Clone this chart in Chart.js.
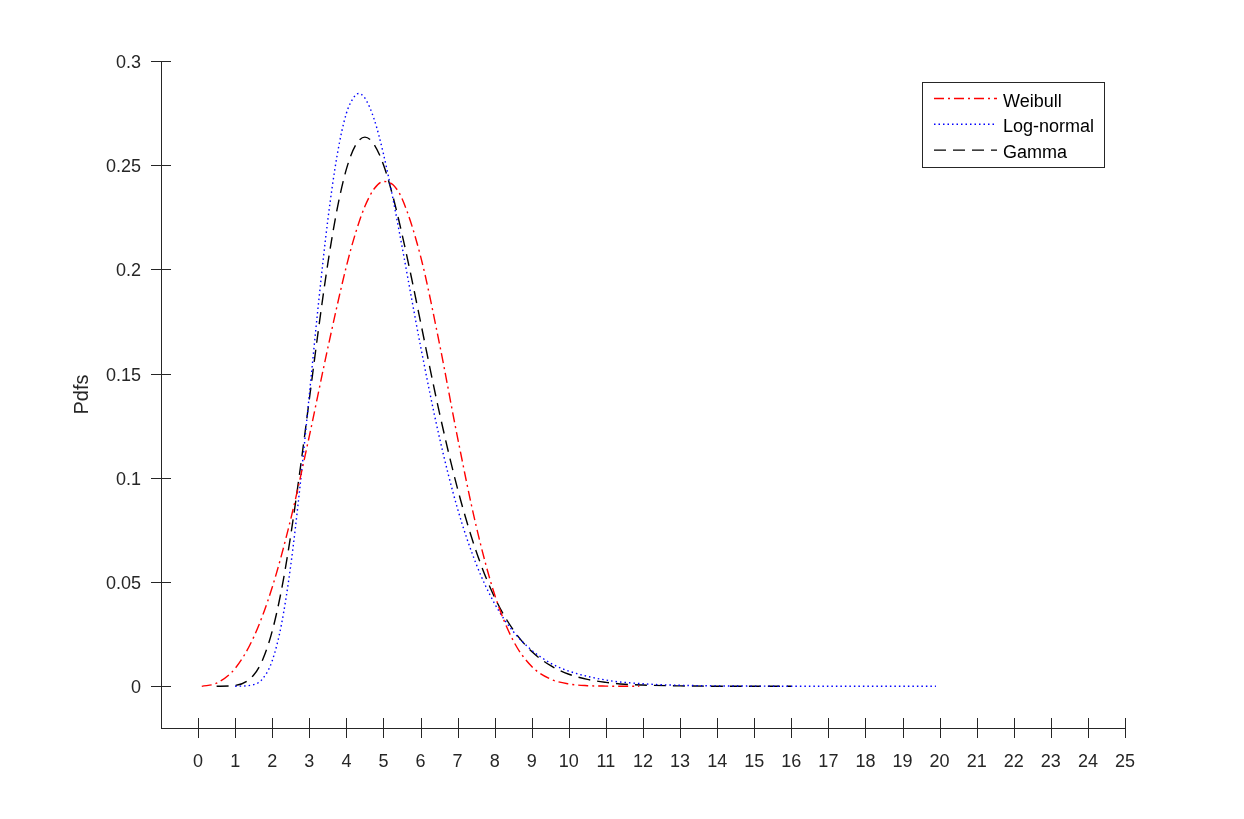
<!DOCTYPE html>
<html lang="en">
<head>
<meta charset="UTF-8">
<title>Pdfs</title>
<script src="https://cdn.jsdelivr.net/npm/chart.js@4.4.8/dist/chart.umd.min.js"></script>
<style>
  body { margin: 0; background: #fff; }
</style>
</head>
<body>
<canvas id="pdfChart" width="1244" height="819"></canvas>

<script>
    // values
    const weibullX = [0.1, 0.5, 1, 1.5, 2, 2.5, 3, 3.5, 4, 4.25, 4.5, 4.75, 5, 5.25, 5.5, 6, 6.5, 7, 7.5, 8, 8.5, 9, 9.5, 10, 10.5, 11, 11.9];
    const weibullY = [0, 0.0015, 0.0086, 0.0236, 0.0475, 0.0803, 0.1200, 0.1624, 0.2015, 0.2176, 0.2303, 0.2387, 0.2422, 0.2407, 0.2340, 0.2064, 0.1653, 0.1192, 0.0769, 0.0439, 0.0219, 0.0095, 0.0035, 0.0011, 0.0003, 0.0001, 0];

    const lognormX = [1, 1.5, 1.75, 2, 2.25, 2.5, 2.75, 3, 3.25, 3.5, 3.75, 4, 4.25, 4.33, 4.5, 4.75, 5, 5.25, 5.5, 5.75, 6, 6.5, 7, 7.5, 8, 8.5, 9, 9.5, 10, 11, 12, 13, 14, 15, 16, 17, 18, 19.9];
    const lognormY = [0, 0.0008, 0.0038, 0.0123, 0.0298, 0.0581, 0.0960, 0.1397, 0.1841, 0.2238, 0.2547, 0.2749, 0.2837, 0.2844, 0.2822, 0.2720, 0.2554, 0.2344, 0.2111, 0.1869, 0.1632, 0.1201, 0.0851, 0.0587, 0.0396, 0.0263, 0.0173, 0.0112, 0.0073, 0.0030, 0.0012, 0.0005, 0.0002, 0.0001, 0.00004, 0.00002, 0.00001, 0];

    const gammaX = [0.5, 1, 1.5, 1.75, 2, 2.25, 2.5, 2.75, 3, 3.25, 3.5, 3.75, 4, 4.25, 4.5, 4.75, 5, 5.25, 5.5, 5.75, 6, 6.5, 7, 7.5, 8, 8.5, 9, 9.5, 10, 10.5, 11, 11.5, 12, 13, 14, 16];
    const gammaY = [0, 0.0004, 0.0054, 0.0131, 0.0265, 0.0463, 0.0726, 0.1037, 0.1376, 0.1716, 0.2029, 0.2289, 0.2481, 0.2597, 0.2635, 0.2599, 0.2502, 0.2354, 0.2170, 0.1965, 0.1748, 0.1320, 0.0947, 0.0648, 0.0426, 0.0271, 0.0167, 0.0100, 0.0058, 0.0033, 0.0019, 0.0010, 0.0006, 0.0002, 0.00004, 0];

    const xTicks = [0, 1, 2, 3, 4, 5, 6, 7, 8, 9, 10, 11, 12, 13, 14, 15, 16, 17, 18, 19, 20, 21, 22, 23, 24, 25];
    const yTicks = [0, 0.05, 0.1, 0.15, 0.2, 0.25, 0.3];

    const axisColor = '#262626';
    const fontFamily = '"Liberation Sans", Arial, Helvetica, sans-serif';

    const toPoints = (xs, ys) => xs.map((x, i) => ({x: x, y: ys[i]}));

    // MATLAB style ticks crossing the axes, plus the boxed legend
    const matlabAxes = {
        id: 'matlabAxes',
        afterDraw(chart) {
            const {ctx, chartArea, scales} = chart;
            ctx.save();
            ctx.strokeStyle = axisColor;
            ctx.lineWidth = 1;
            ctx.beginPath();
            scales.x.ticks.forEach(t => {
                const px = Math.round(scales.x.getPixelForValue(t.value)) + 0.5;
                ctx.moveTo(px, chartArea.bottom - 10);
                ctx.lineTo(px, chartArea.bottom + 10);
            });
            scales.y.ticks.forEach(t => {
                const py = Math.round(scales.y.getPixelForValue(t.value)) + 0.5;
                ctx.moveTo(chartArea.left - 10, py);
                ctx.lineTo(chartArea.left + 10, py);
            });
            ctx.stroke();

            // legend box
            const boxRight = chartArea.right - 21;
            const boxTop = chartArea.top + 21;
            const boxW = 182, boxH = 85;
            const boxLeft = boxRight - boxW;
            ctx.fillStyle = '#fff';
            ctx.fillRect(boxLeft, boxTop, boxW, boxH);
            ctx.strokeRect(boxLeft + 0.5, boxTop + 0.5, boxW, boxH);

            ctx.font = '18px ' + fontFamily;
            ctx.textBaseline = 'alphabetic';
            chart.data.datasets.forEach((ds, i) => {
                const rowY = boxTop + 16.5 + i * 25.8;
                ctx.strokeStyle = ds.borderColor;
                ctx.lineWidth = ds.borderWidth;
                ctx.setLineDash(ds.borderDash);
                ctx.beginPath();
                ctx.moveTo(boxLeft + 12, rowY);
                ctx.lineTo(boxLeft + 75, rowY);
                ctx.stroke();
                ctx.setLineDash([]);
                ctx.fillStyle = '#000';
                ctx.fillText(ds.label, boxLeft + 81, rowY + 8);
            });
            ctx.restore();
        }
    };

    const chart = new Chart(document.getElementById('pdfChart'), {
        type: 'line',
        data: {
            datasets: [{
                label: 'Weibull',
                data: toPoints(weibullX, weibullY),
                borderColor: '#ff0000',
                borderDash: [10, 4, 2, 4],
                borderWidth: 1.4
            }, {
                label: 'Log-normal',
                data: toPoints(lognormX, lognormY),
                borderColor: '#0000ff',
                borderDash: [1.5, 3],
                borderWidth: 1.4
            }, {
                label: 'Gamma',
                data: toPoints(gammaX, gammaY),
                borderColor: '#000000',
                borderDash: [12, 7],
                borderWidth: 1.4
            }]
        },
        plugins: [matlabAxes],
        options: {
            responsive: false,
            animation: false,
            layout: {
                padding: {top: 61, right: 119, left: 0, bottom: 0}
            },
            elements: {
                point: {radius: 0},
                line: {fill: false, cubicInterpolationMode: 'monotone'}
            },
            plugins: {
                legend: {display: false},
                tooltip: {enabled: false}
            },
            scales: {
                x: {
                    type: 'linear',
                    min: -1,
                    max: 25,
                    afterBuildTicks: (scale) => { scale.ticks = xTicks.map(v => ({value: v})); },
                    afterFit: (scale) => { scale.height = 91; },
                    grid: {display: false, drawTicks: false},
                    border: {display: true, color: axisColor, width: 1},
                    ticks: {
                        padding: 23,
                        maxRotation: 0,
                        autoSkip: false,
                        color: axisColor,
                        font: {family: fontFamily, size: 18, lineHeight: 1.2}
                    }
                },
                y: {
                    min: -0.02,
                    max: 0.3,
                    afterBuildTicks: (scale) => { scale.ticks = yTicks.map(v => ({value: v})); },
                    afterFit: (scale) => { scale.width = 161; },
                    grid: {display: false, drawTicks: false},
                    border: {display: true, color: axisColor, width: 1},
                    ticks: {
                        padding: 20,
                        labelOffset: 2,
                        color: axisColor,
                        font: {family: fontFamily, size: 18, lineHeight: 1.2},
                        callback: (v) => String(+v.toFixed(2))
                    },
                    title: {
                        display: true,
                        text: 'Pdfs',
                        color: axisColor,
                        padding: {top: 70, bottom: 0},
                        font: {family: fontFamily, size: 20, lineHeight: 1.2}
                    }
                }
            }
        }
    });
</script>
</body>
</html>
